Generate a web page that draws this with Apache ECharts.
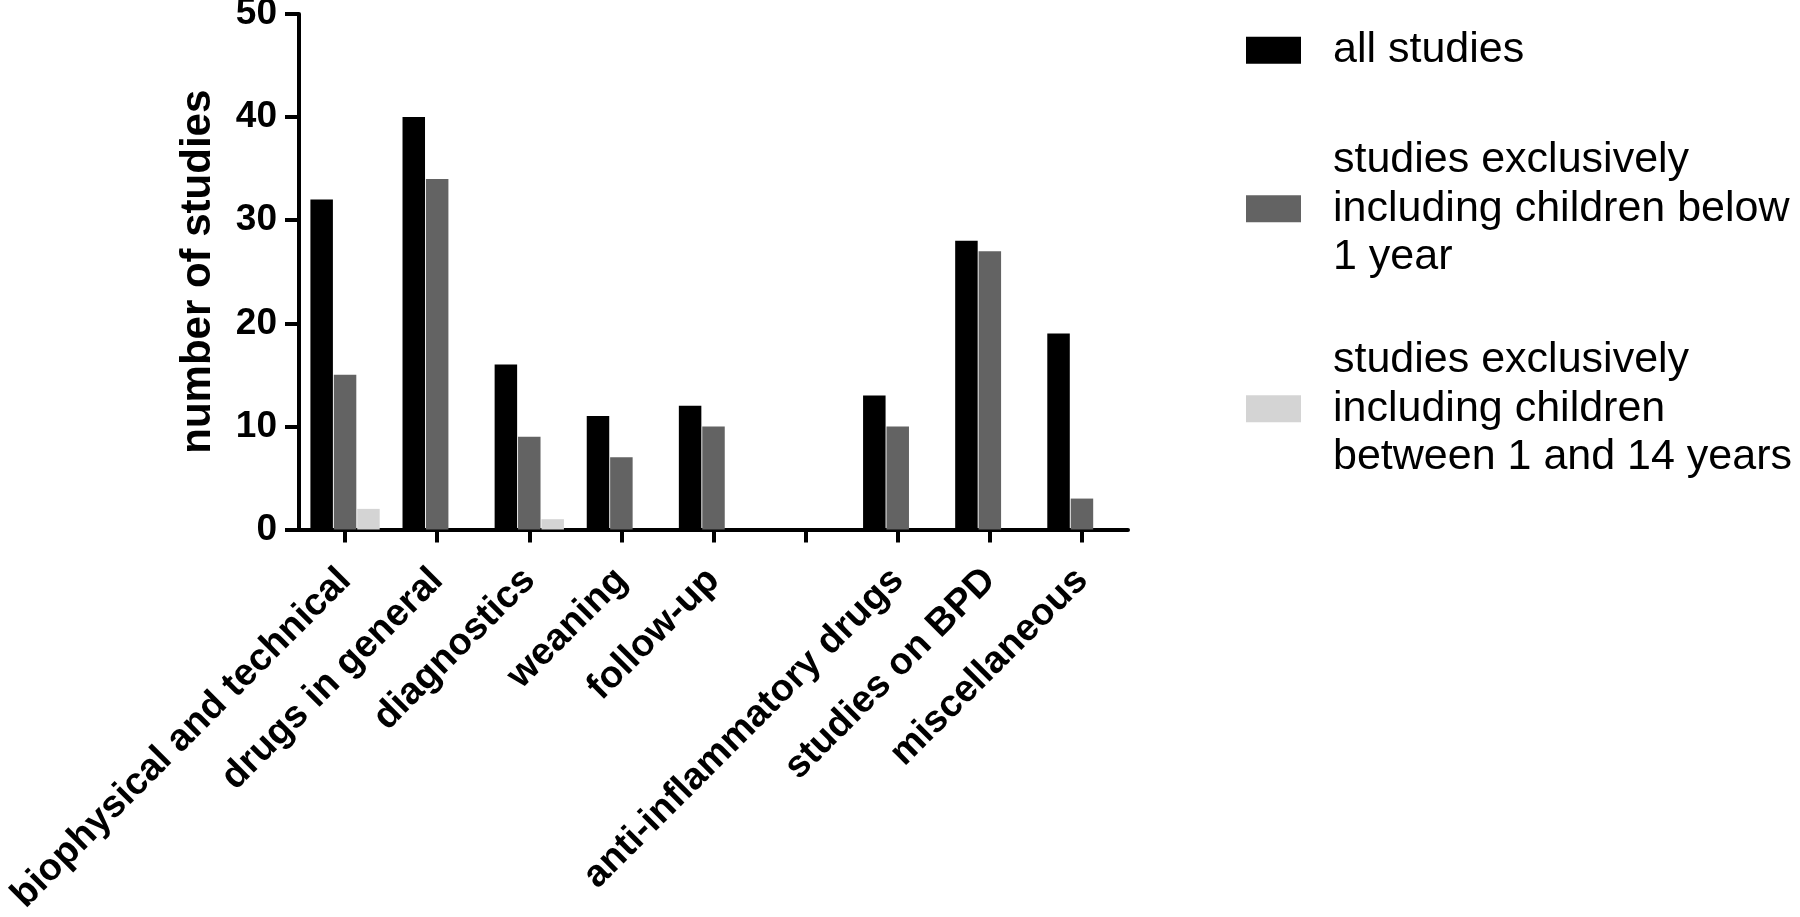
<!DOCTYPE html>
<html>
<head>
<meta charset="utf-8">
<script src="https://cdn.jsdelivr.net/npm/echarts@6/dist/echarts.min.js"></script>
<style>
html,body{margin:0;padding:0;background:#ffffff;}
#chart{width:1800px;height:917px;}
</style>
</head>
<body>
<div id="chart"></div>
<script>
const categories = ['biophysical and technical', 'drugs in general', 'diagnostics', 'weaning', 'follow-up', '', 'anti-inflammatory drugs', 'studies on BPD', 'miscellaneous'];
const allStudies = [32, 40, 16, 11, 12, 0, 13, 28, 19];
const below1Year = [15, 34, 9, 7, 10, 0, 10, 27, 3];
const between1And14 = [2, 0, 1, 0, 0, 0, 0, 0, 0];
const seriesNames = [
  'all studies',
  'studies exclusively\nincluding children below\n1 year',
  'studies exclusively\nincluding children\nbetween 1 and 14 years'
];
const seriesColors = ['#000000', '#636363', '#d4d4d4'];
const yMin = 0, yMax = 50, yStep = 10;

const FONT = "'Liberation Sans', Arial, Helvetica, sans-serif";
const chart = echarts.init(document.getElementById('chart'), null, {renderer: 'canvas'});

function legendAt(idx, top) {
  return {
    data: [seriesNames[idx]],
    left: 1246,
    top: top,
    orient: 'vertical',
    padding: 0,
    itemWidth: 55,
    itemHeight: 27,
    icon: 'rect',
    selectedMode: false,
    textStyle: {
      fontFamily: FONT,
      fontSize: 43,
      lineHeight: 48.5,
      color: '#000',
      padding: [0, 0, 0, 27]
    }
  };
}

const seriesList = [allStudies, below1Year, between1And14].map((d, i) => ({
  type: 'bar',
  name: seriesNames[i],
  data: d,
  barWidth: 22.5,
  barGap: '4%',
  itemStyle: {color: seriesColors[i]},
  emphasis: {disabled: true}
}));

chart.setOption({
  animation: false,
  backgroundColor: '#ffffff',
  grid: {
    left: 299,
    right: 672,
    top: 14,
    bottom: 387.5,
    containLabel: false,
    outerBoundsMode: 'none'
  },
  legend: [legendAt(0, 26), legendAt(1, 136), legendAt(2, 336)],
  xAxis: {
    type: 'category',
    data: categories,
    axisLine: {show: true, lineStyle: {color: '#000', width: 4}},
    axisTick: {show: true, alignWithLabel: true, length: 13, lineStyle: {color: '#000', width: 4}},
    axisLabel: {
      interval: 0,
      rotate: 45,
      margin: 45,
      fontFamily: FONT,
      fontSize: 38,
      fontWeight: 'bold',
      color: '#000'
    },
    splitLine: {show: false}
  },
  yAxis: {
    type: 'value',
    min: yMin,
    max: yMax,
    interval: yStep,
    name: 'number of studies',
    nameLocation: 'middle',
    nameRotate: 90,
    nameGap: 101,
    nameTextStyle: {
      fontFamily: FONT,
      fontSize: 42,
      fontWeight: 'bold',
      color: '#000',
      verticalAlign: 'middle'
    },
    axisLine: {show: true, lineStyle: {color: '#000', width: 4}},
    axisTick: {show: true, length: 14, lineStyle: {color: '#000', width: 4}},
    axisLabel: {
      margin: 22,
      fontFamily: FONT,
      fontSize: 37,
      fontWeight: 'bold',
      color: '#000'
    },
    splitLine: {show: false}
  },
  series: seriesList
});
</script>
</body>
</html>
